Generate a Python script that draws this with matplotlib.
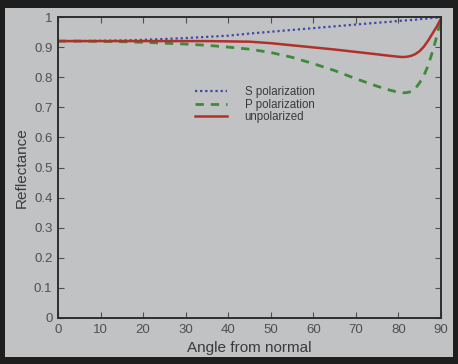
import matplotlib
matplotlib.use("Agg")
import matplotlib.pyplot as plt
from matplotlib.patches import Rectangle

plt.rcParams['font.family'] = ['Liberation Sans', 'DejaVu Sans']

angles = [0, 5, 10, 15, 20, 25, 30, 35, 40, 45, 50, 55, 60, 65, 70, 75, 78, 80, 81, 82, 83, 84, 85, 86, 87, 88, 89, 90]
s_pol = [0.920, 0.920, 0.921, 0.922, 0.924, 0.927, 0.930, 0.934, 0.938, 0.945, 0.951, 0.957, 0.963, 0.969, 0.975, 0.981, 0.984, 0.987, 0.988, 0.989, 0.990, 0.991, 0.993, 0.994, 0.995, 0.997, 0.998, 1.000]
p_pol = [0.920, 0.920, 0.919, 0.918, 0.916, 0.913, 0.910, 0.906, 0.900, 0.893, 0.882, 0.866, 0.845, 0.822, 0.795, 0.770, 0.757, 0.750, 0.748, 0.749, 0.752, 0.763, 0.782, 0.806, 0.840, 0.885, 0.935, 0.995]
unpol = [0.920, 0.920, 0.920, 0.920, 0.920, 0.920, 0.920, 0.920, 0.919, 0.918, 0.913, 0.906, 0.899, 0.892, 0.884, 0.876, 0.871, 0.868, 0.867, 0.868, 0.871, 0.877, 0.887, 0.902, 0.922, 0.945, 0.968, 0.995]

labels = ["S polarization", "P polarization", "unpolarized"]
xticks = [0, 10, 20, 30, 40, 50, 60, 70, 80, 90]
yticks = [0, 0.1, 0.2, 0.3, 0.4, 0.5, 0.6, 0.7, 0.8, 0.9, 1]
yticklabels = ["0", "0.1", "0.2", "0.3", "0.4", "0.5", "0.6", "0.7", "0.8", "0.9", "1"]

W, H = 458, 364
fig = plt.figure(figsize=(W / 100, H / 100), dpi=100)
fig.patch.set_facecolor('#1e1e1e')
panel_col = '#c1c2c4'
fig.patches.append(Rectangle((5 / W, 1 - 357 / H), 448 / W, 349 / H,
                             transform=fig.transFigure, facecolor=panel_col,
                             edgecolor='none', zorder=-5))

ax = fig.add_axes([58 / W, 1 - 318 / H, (441 - 58) / W, (318 - 17) / H])
ax.set_zorder(2)
ax.set_facecolor(panel_col)
txt = '#3a3a3a'

ax.plot(angles, s_pol, color='#4245a8', linestyle=(0, (1, 1.3)), linewidth=1.6, label=labels[0])
ax.plot(angles, p_pol, color='#3c8a3a', linestyle=(0, (3, 2.5)), linewidth=2.0, label=labels[1])
ax.plot(angles, unpol, color='#b2302a', linestyle='-', linewidth=1.8, label=labels[2])

ax.set_xlim(0, 90)
ax.set_ylim(0, 1)
ax.set_xticks(xticks)
ax.set_yticks(yticks)
ax.set_yticklabels(yticklabels)
ax.tick_params(direction='in', top=True, right=True, length=4, width=0.8,
               colors='#505050', labelcolor='#505050', labelsize=9.5, pad=4)
for sp in ax.spines.values():
    sp.set_color('#2e2e2e')
    sp.set_linewidth(1.4)

ax.set_xlabel("Angle from normal", color=txt, fontsize=11, labelpad=4)
ax.set_ylabel("Reflectance", color=txt, fontsize=11, labelpad=4)

leg = ax.legend(loc='upper left', bbox_to_anchor=((195 - 58) / (441 - 58), (318 - 86) / (318 - 17)),
                frameon=False, fontsize=8.3, handlelength=2.8, handletextpad=1.5,
                labelspacing=0.05, borderpad=0, borderaxespad=0)
for t in leg.get_texts():
    t.set_color(txt)

fig.savefig("out.png", dpi=100, facecolor=fig.get_facecolor())
